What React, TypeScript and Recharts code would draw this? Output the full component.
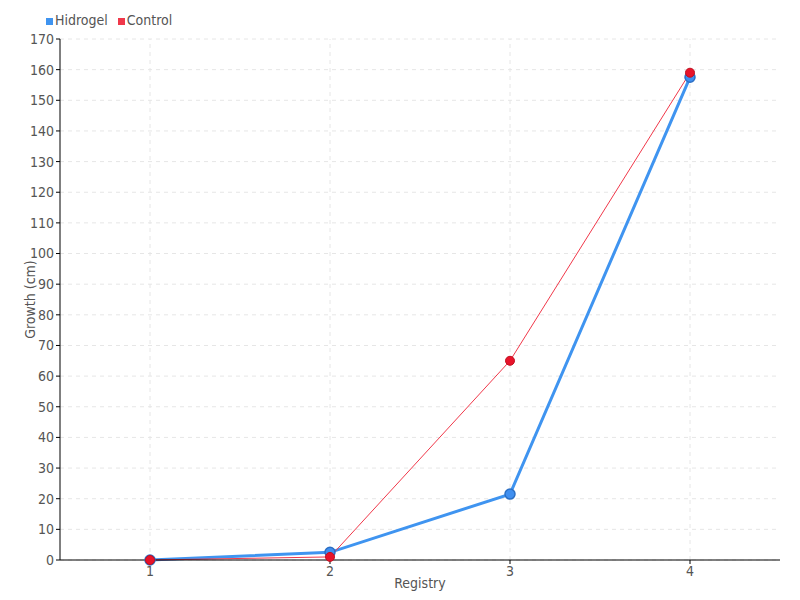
import React from 'react';
import { LineChart, Line, XAxis, YAxis, CartesianGrid, Legend, Label, ReferenceLine } from 'recharts';

const registries = ['1', '2', '3', '4'];
const hidrogel = [0, 2.5, 21.5, 157.5];
const control = [0, 1, 65, 159];
const yTicks = [0, 10, 20, 30, 40, 50, 60, 70, 80, 90, 100, 110, 120, 130, 140, 150, 160, 170];
const seriesOrder = ['Hidrogel', 'Control'];

const data = registries.map((r, i) => ({ registry: r, Hidrogel: hidrogel[i], Control: control[i] }));

const FONT = '"DejaVu Sans Condensed", sans-serif';

export default function App() {
  return (
    <div style={{ position: 'fixed', left: 0, top: 0, width: 800, height: 600, background: '#fff' }}>
      <LineChart
        width={800}
        height={600}
        data={data}
        margin={{ top: 23, right: 20, bottom: 0, left: 30 }}
        style={{ fontFamily: FONT }}
      >
        <CartesianGrid stroke="#e6e6e6" strokeDasharray="4 4" vertical={false} />
        {registries.map((r) => (
          <ReferenceLine key={r} x={r} stroke="#e6e6e6" strokeDasharray="4 4" />
        ))}
        <XAxis
          dataKey="registry"
          padding={{ left: 90, right: 90 }}
          height={40}
          tickSize={4}
          stroke="#000"
          tick={{ fill: '#555', fontSize: 14, fontFamily: FONT }}
        >
          <Label value="Registry" position="insideBottom" offset={12} style={{ fill: '#555', fontSize: 14, fontFamily: FONT }} />
        </XAxis>
        <YAxis
          domain={[0, 170]}
          ticks={yTicks}
          interval={0}
          width={30}
          tickSize={4}
          stroke="#000"
          tick={{ fill: '#555', fontSize: 14, fontFamily: FONT }}
        >
          <Label value="Growth (cm)" angle={-90} position="insideLeft" offset={0} style={{ textAnchor: 'middle', fill: '#555', fontSize: 14, fontFamily: FONT }} />
        </YAxis>
        <Legend
          verticalAlign="top"
          align="left"
          iconType="square"
          iconSize={7}
          itemSorter={(e: any) => seriesOrder.indexOf(e.value)}
          wrapperStyle={{ top: 12, left: 46, fontSize: 14, fontFamily: FONT }}
          formatter={(v: string) => <span style={{ color: '#555', marginLeft: -2 }}>{v}</span>}
        />
        <Line
          type="linear"
          dataKey="Hidrogel"
          stroke="#3f94f0"
          strokeWidth={3}
          dot={{ r: 5, fill: '#3f8ff0', stroke: '#2b6fc4', strokeWidth: 1.5 }}
          isAnimationActive={false}
        />
        <Line
          type="linear"
          dataKey="Control"
          stroke="#f0384a"
          strokeWidth={1}
          dot={{ r: 4.5, fill: '#e8132a', stroke: '#c01020', strokeWidth: 1 }}
          isAnimationActive={false}
        />
      </LineChart>
    </div>
  );
}
